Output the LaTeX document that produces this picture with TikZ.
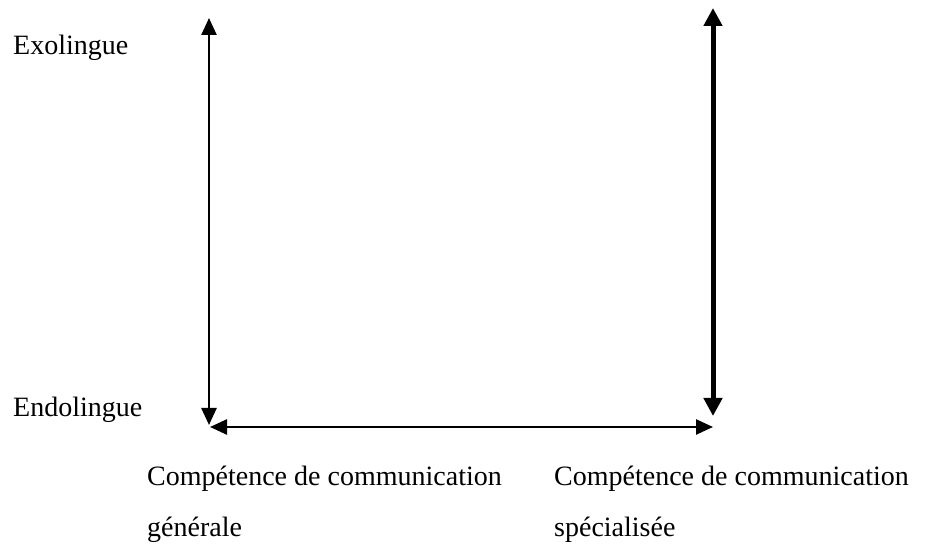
\documentclass[tikz,border=0pt]{standalone}
\usepackage{fontspec}
\setmainfont{Liberation Serif}
\usetikzlibrary{arrows.meta}
\tikzset{>={Triangle[length=17pt,width=15pt]}}
\tikzset{axelabel/.style={anchor=base west,inner sep=0pt,font=\fontsize{28}{34}\selectfont}}

\begin{document}
\begin{tikzpicture}[x=1pt,y=1pt]
  \useasboundingbox (0,0) rectangle (927,546);
  \coordinate (exoL) at (209,528);
  \coordinate (endoL) at (209,121);
  \coordinate (exoR) at (713,538);
  \coordinate (endoR) at (713,130);
  \coordinate (genH) at (210,119);
  \coordinate (speH) at (713,119);
  \draw[<->,line width=2.5pt] (endoL) -- (exoL);
  \draw[<->,line width=5pt,>={Triangle[length=18pt,width=18pt]}] (endoR) -- (exoR);
  \draw[<->,line width=2.5pt] (genH) -- (speH);
  \node[axelabel] (exo) at (13,491) {Exolingue};
  \node[axelabel] (endo) at (13,129) {Endolingue};
  \node[axelabel] (gen1) at (147,60) {Compétence de communication};
  \node[axelabel] (gen2) at (147,9) {générale};
  \node[axelabel] (spe1) at (554,60) {Compétence de communication};
  \node[axelabel] (spe2) at (554,9) {spécialisée};
\end{tikzpicture}
\end{document}
